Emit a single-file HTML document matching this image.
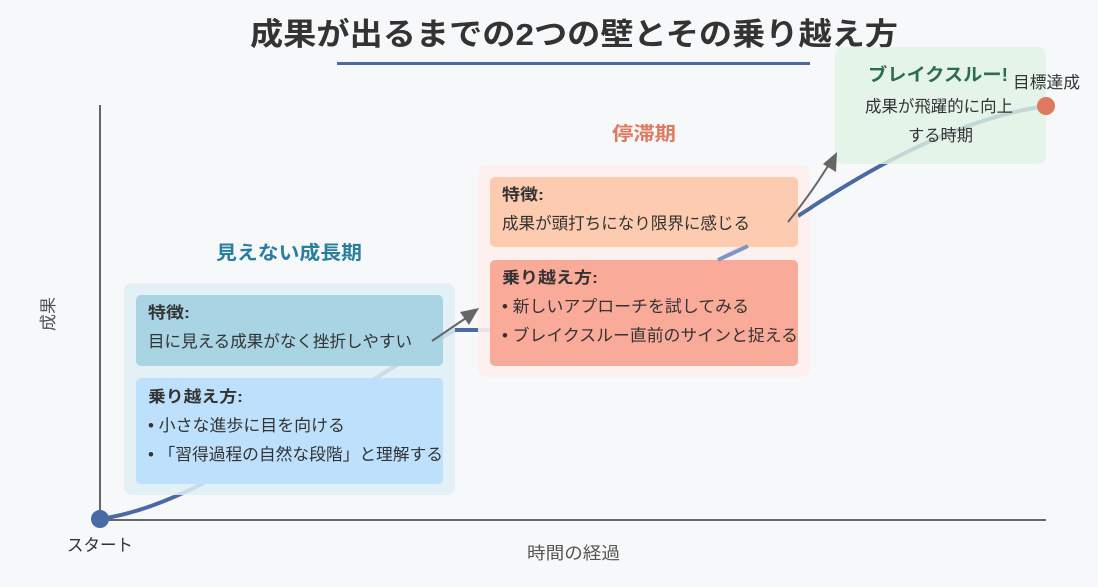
<!DOCTYPE html>
<html><head><meta charset="utf-8"><style>
body{margin:0;background:#f7f8fa;}
svg text{font-family:"Liberation Sans","Noto Sans CJK JP",sans-serif;}
</style></head><body>
<svg width="1098" height="582" viewBox="0 0 1098 582" xmlns="http://www.w3.org/2000/svg">
<rect width="1098" height="582" fill="#f7f8fa"/>
<text x="250" y="45" font-size="31" font-weight="bold" fill="#333" textLength="648" lengthAdjust="spacingAndGlyphs">成果が出るまでの2つの壁とその乗り越え方</text>
<rect x="337" y="62" width="473" height="3" fill="#4a6aa5"/>
<line x1="100" y1="105" x2="100" y2="520" stroke="#666" stroke-width="2"/>
<line x1="100" y1="520" x2="1046" y2="520" stroke="#666" stroke-width="2"/>
<text x="54" y="314" font-size="17" fill="#555" text-anchor="middle" transform="rotate(-90 54 314)">成果</text>
<text x="527" y="559" font-size="17" fill="#555" textLength="93" lengthAdjust="spacingAndGlyphs">時間の経過</text>
<path d="M100,519 C200,505 300,420 455,330 L490,330 C560,320 640,300 700,270 L798,216 C860,175 950,120 1046,106" fill="none" stroke="#4a6aa5" stroke-width="4"/>
<circle cx="100" cy="519" r="9" fill="#4a6aa5"/>
<text x="67" y="551" font-size="17" fill="#333" textLength="66" lengthAdjust="spacingAndGlyphs">スタート</text>
<text x="216" y="259" font-size="19" font-weight="bold" fill="#2a7fa0" textLength="146" lengthAdjust="spacingAndGlyphs">見えない成長期</text>
<rect x="124" y="283" width="331" height="212" rx="8" fill="#dfeef4" opacity="0.85"/>
<rect x="136" y="295" width="307" height="71" rx="5" fill="#a8d4e4"/>
<rect x="136" y="378" width="307" height="106" rx="5" fill="#bde0fc"/>
<text x="148" y="318" font-size="16" font-weight="bold" fill="#333" textLength="42" lengthAdjust="spacingAndGlyphs">特徴:</text>
<text x="148" y="347" font-size="16.5" fill="#333" textLength="264" lengthAdjust="spacingAndGlyphs">目に見える成果がなく挫折しやすい</text>
<text x="148" y="402" font-size="16" font-weight="bold" fill="#333" textLength="95" lengthAdjust="spacingAndGlyphs">乗り越え方:</text>
<text x="148" y="431" font-size="16.5" fill="#333" textLength="197" lengthAdjust="spacingAndGlyphs">• 小さな進歩に目を向ける</text>
<text x="148" y="460" font-size="16.5" fill="#333" textLength="295" lengthAdjust="spacingAndGlyphs">• 「習得過程の自然な段階」と理解する</text>
<text x="612" y="140" font-size="19" font-weight="bold" fill="#e07a5f" textLength="64" lengthAdjust="spacingAndGlyphs">停滞期</text>
<rect x="478" y="165" width="332" height="212" rx="8" fill="#fcefec" opacity="0.9"/>
<path d="M798,216 L812,207" stroke="#4a6aa5" stroke-width="4"/>
<rect x="490" y="177" width="308" height="70" rx="5" fill="#fccbb0"/>
<rect x="490" y="260" width="308" height="106" rx="5" fill="#f9aa98"/>
<text x="502" y="200" font-size="16" font-weight="bold" fill="#333" textLength="42" lengthAdjust="spacingAndGlyphs">特徴:</text>
<text x="502" y="229" font-size="16.5" fill="#333" textLength="248" lengthAdjust="spacingAndGlyphs">成果が頭打ちになり限界に感じる</text>
<text x="502" y="283" font-size="16" font-weight="bold" fill="#333" textLength="96" lengthAdjust="spacingAndGlyphs">乗り越え方:</text>
<text x="502" y="312" font-size="16.5" fill="#333" textLength="247" lengthAdjust="spacingAndGlyphs">• 新しいアプローチを試してみる</text>
<text x="502" y="341" font-size="16.5" fill="#333" textLength="296" lengthAdjust="spacingAndGlyphs">• ブレイクスルー直前のサインと捉える</text>
<path d="M718,260 L748,246" stroke="#7f96c2" stroke-width="4"/>
<rect x="835" y="47" width="211" height="117" rx="8" fill="#e0f3e3" opacity="0.8"/>
<text x="868" y="81" font-size="18" font-weight="bold" fill="#2a6e4a" textLength="140" lengthAdjust="spacingAndGlyphs">ブレイクスルー!</text>
<text x="865" y="112" font-size="16.5" fill="#333" textLength="148" lengthAdjust="spacingAndGlyphs">成果が飛躍的に向上</text>
<text x="908" y="141" font-size="16.5" fill="#333" textLength="65" lengthAdjust="spacingAndGlyphs">する時期</text>
<circle cx="1046" cy="106" r="9" fill="#e07a5f"/>
<text x="1013" y="88" font-size="16.5" fill="#333" textLength="67" lengthAdjust="spacingAndGlyphs">目標達成</text>
<line x1="432" y1="341" x2="466" y2="318" stroke="#666" stroke-width="2"/>
<polygon points="479,308 460,312 469,325" fill="#666"/>
<path d="M788,222 Q810,195 828,166" fill="none" stroke="#666" stroke-width="2"/>
<polygon points="837,152 823,164 836,172" fill="#666"/>
</svg>
</body></html>
